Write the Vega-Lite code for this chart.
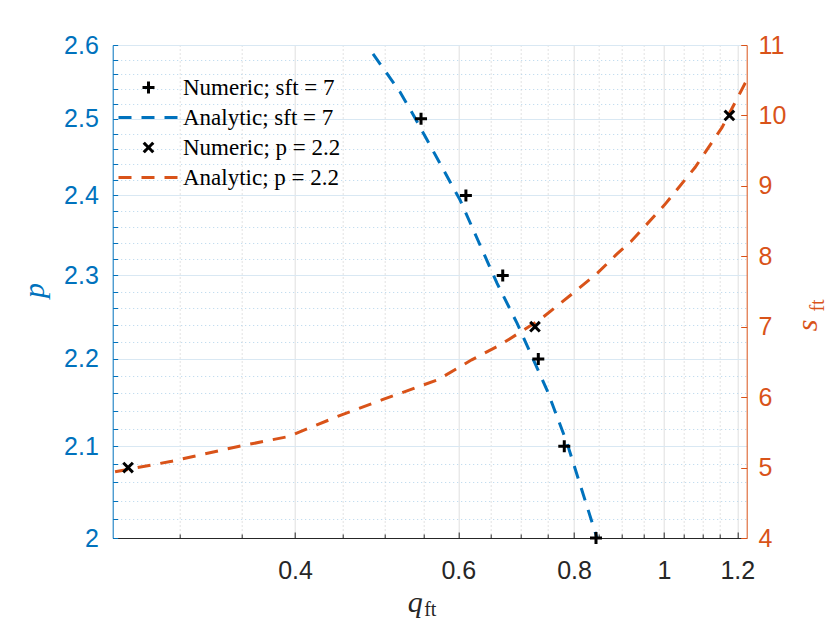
{
  "$schema": "https://vega.github.io/schema/vega-lite/v6.json",
  "width": 634,
  "height": 493,
  "autosize": {"type": "none"},
  "padding": {"left": 112.7, "top": 45, "right": 83.3, "bottom": 85},
  "background": "white",
  "config": {
    "view": {"stroke": null},
    "axis": {
      "labelFont": "Liberation Sans",
      "labelFontSize": 25,
      "titleFont": "Liberation Serif",
      "titleFontStyle": "italic",
      "titleFontWeight": "normal",
      "titleFontSize": 30,
      "tickWidth": 1,
      "domainWidth": 1,
      "gridWidth": 1
    },
    "legend": {
      "labelFont": "Liberation Serif",
      "labelFontSize": 23,
      "labelColor": "#000000",
      "labelLimit": 400,
      "symbolSize": 144,
      "symbolStrokeWidth": 3,
      "labelOffset": 23,
      "symbolOffset": 0,
      "rowPadding": 6,
      "padding": 0,
      "offset": 0
    }
  },
  "datasets": {
    "numS": [
      {"q": 0.547, "p": 2.5, "series": "Numeric; sft = 7"},
      {"q": 0.6115, "p": 2.4, "series": "Numeric; sft = 7"},
      {"q": 0.6701, "p": 2.3, "series": "Numeric; sft = 7"},
      {"q": 0.732, "p": 2.2, "series": "Numeric; sft = 7"},
      {"q": 0.7808, "p": 2.1, "series": "Numeric; sft = 7"},
      {"q": 0.8448, "p": 2.0, "series": "Numeric; sft = 7"}
    ],
    "anaS": [
      {"q": 0.4855, "p": 2.5876, "series": "Analytic; sft = 7"},
      {"q": 0.5192, "p": 2.5358, "series": "Analytic; sft = 7"},
      {"q": 0.5389, "p": 2.501, "series": "Analytic; sft = 7"},
      {"q": 0.6026, "p": 2.3943, "series": "Analytic; sft = 7"},
      {"q": 0.6606, "p": 2.2905, "series": "Analytic; sft = 7"},
      {"q": 0.6943, "p": 2.2423, "series": "Analytic; sft = 7"},
      {"q": 0.748, "p": 2.1638, "series": "Analytic; sft = 7"},
      {"q": 0.7861, "p": 2.1037, "series": "Analytic; sft = 7"},
      {"q": 0.8469, "p": 2.0, "series": "Analytic; sft = 7"}
    ],
    "numP": [
      {"q": 0.2642, "s": 5, "series": "Numeric; p = 2.2"},
      {"q": 0.726, "s": 7, "series": "Numeric; p = 2.2"},
      {"q": 1.1767, "s": 10, "series": "Numeric; p = 2.2"}
    ],
    "anaP": [
      {"q": 0.2558, "s": 4.94, "series": "Analytic; p = 2.2"},
      {"q": 0.2945, "s": 5.09, "series": "Analytic; p = 2.2"},
      {"q": 0.3474, "s": 5.3, "series": "Analytic; p = 2.2"},
      {"q": 0.3934, "s": 5.44, "series": "Analytic; p = 2.2"},
      {"q": 0.4454, "s": 5.73, "series": "Analytic; p = 2.2"},
      {"q": 0.4961, "s": 5.96, "series": "Analytic; p = 2.2"},
      {"q": 0.571, "s": 6.25, "series": "Analytic; p = 2.2"},
      {"q": 0.6204, "s": 6.53, "series": "Analytic; p = 2.2"},
      {"q": 0.6656, "s": 6.74, "series": "Analytic; p = 2.2"},
      {"q": 0.735, "s": 7.1, "series": "Analytic; p = 2.2"},
      {"q": 0.7985, "s": 7.48, "series": "Analytic; p = 2.2"},
      {"q": 0.8477, "s": 7.76, "series": "Analytic; p = 2.2"},
      {"q": 0.8895, "s": 8.03, "series": "Analytic; p = 2.2"},
      {"q": 0.9215, "s": 8.21, "series": "Analytic; p = 2.2"},
      {"q": 1.0017, "s": 8.73, "series": "Analytic; p = 2.2"},
      {"q": 1.0803, "s": 9.26, "series": "Analytic; p = 2.2"},
      {"q": 1.1554, "s": 9.83, "series": "Analytic; p = 2.2"},
      {"q": 1.2284, "s": 10.5, "series": "Analytic; p = 2.2"}
    ]
  },
  "layer": [
    {
      "layer": [
        {
          "data": {"name": "anaS"},
          "mark": {"type": "line", "strokeWidth": 3, "clip": true, "opacity": 1},
          "encoding": {
            "x": {
              "field": "q", "type": "quantitative",
              "scale": {"type": "log", "domain": [0.2543, 1.2284], "nice": false},
              "axis": {
                "orient": "bottom",
                "values": [0.4, 0.6, 0.8, 1, 1.2],
                "format": "~g",
                "labelColor": "#262626",
                "labelPadding": 26.7,
                "tickColor": "#262626",
                "tickSize": -6,
                "domainColor": "#262626",
                "grid": true,
                "gridColor": "#dfdfdf",
                "title": "q",
                "titleColor": "#262626",
                "titleX": 302,
                "titleY": 73,
                "titleAlign": "center",
                "titleBaseline": "alphabetic"
              }
            },
            "y": {
              "field": "p", "type": "quantitative",
              "scale": {"type": "log", "domain": [2, 2.6], "nice": false},
              "axis": {
                "orient": "left",
                "values": [2, 2.1, 2.2, 2.3, 2.4, 2.5, 2.6],
                "format": "~g",
                "labelColor": "#0072BD",
                "labelPadding": 19.4,
                "tickColor": "#0072BD",
                "tickSize": -5,
                "domainColor": "#0072BD",
                "grid": true,
                "gridColor": "#d9e8f3",
                "title": "p",
                "titleColor": "#0072BD",
                "titleAngle": 270,
                "titleX": -69,
                "titleY": 245,
                "titleAlign": "center",
                "titleBaseline": "alphabetic"
              }
            },
            "color": {
              "field": "series", "type": "nominal", "title": null,
              "scale": {
                "domain": ["Numeric; sft = 7", "Analytic; sft = 7", "Numeric; p = 2.2", "Analytic; p = 2.2"],
                "range": ["#000000", "#0072BD", "#000000", "#D95319"]
              },
              "legend": {"orient": "none", "legendX": 24.3, "legendY": 31}
            },
            "strokeDash": {
              "field": "series", "type": "nominal", "title": null,
              "scale": {
                "domain": ["Numeric; sft = 7", "Analytic; sft = 7", "Numeric; p = 2.2", "Analytic; p = 2.2"],
                "range": [[1, 0], [13, 10], [1, 0], [13, 10]]
              },
              "legend": {"orient": "none", "legendX": 24.3, "legendY": 31}
            }
          }
        },
        {
          "data": {"name": "numS"},
          "mark": {"type": "point", "filled": false, "strokeWidth": 3, "size": 144, "opacity": 1},
          "encoding": {
            "x": {
              "field": "q", "type": "quantitative",
              "scale": {"type": "log", "domain": [0.2543, 1.2284], "nice": false},
              "axis": {
                "orient": "bottom",
                "values": [0.3, 0.35, 0.45, 0.5, 0.55, 0.65, 0.7, 0.75, 0.85, 0.9, 0.95, 1.05, 1.1, 1.15],
                "labels": false,
                "domain": false,
                "tickColor": "#262626",
                "tickSize": -4,
                "grid": true,
                "gridColor": "#c4c4c4",
                "gridDash": [1, 3],
                "title": "ft",
                "titleFontStyle": "normal",
                "titleFontSize": 20,
                "titleColor": "#262626",
                "titleX": 311,
                "titleY": 77,
                "titleAlign": "left",
                "titleBaseline": "alphabetic"
              }
            },
            "y": {
              "field": "p", "type": "quantitative",
              "scale": {"type": "log", "domain": [2, 2.6], "nice": false},
              "axis": {
                "orient": "left",
                "values": [2.02, 2.04, 2.06, 2.08, 2.12, 2.14, 2.16, 2.18, 2.22, 2.24, 2.26, 2.28, 2.32, 2.34, 2.36, 2.38, 2.42, 2.44, 2.46, 2.48, 2.52, 2.54, 2.56, 2.58],
                "labels": false,
                "domain": false,
                "tickColor": "#0072BD",
                "tickSize": -5,
                "grid": true,
                "gridColor": "#b5d5ec",
                "gridDash": [1, 3],
                "title": null
              }
            },
            "color": {
              "field": "series", "type": "nominal", "title": null,
              "scale": {
                "domain": ["Numeric; sft = 7", "Analytic; sft = 7", "Numeric; p = 2.2", "Analytic; p = 2.2"],
                "range": ["#000000", "#0072BD", "#000000", "#D95319"]
              },
              "legend": {"orient": "none", "legendX": 24.3, "legendY": 31}
            },
            "shape": {
              "field": "series", "type": "nominal", "title": null,
              "scale": {
                "domain": ["Numeric; sft = 7", "Analytic; sft = 7", "Numeric; p = 2.2", "Analytic; p = 2.2"],
                "range": ["M-1,0H1M0,-1V1", "M-5,0H5", "M-0.8,-0.8L0.8,0.8M-0.8,0.8L0.8,-0.8", "M-5,0H5"]
              },
              "legend": {"orient": "none", "legendX": 24.3, "legendY": 31}
            }
          }
        }
      ],
      "resolve": {"axis": {"x": "independent", "y": "independent"}}
    },
    {
      "layer": [
        {
          "data": {"name": "anaP"},
          "mark": {"type": "line", "strokeWidth": 3, "clip": true, "opacity": 1},
          "encoding": {
            "x": {
              "field": "q", "type": "quantitative",
              "scale": {"type": "log", "domain": [0.2543, 1.2284], "nice": false},
              "axis": null
            },
            "y": {
              "field": "s", "type": "quantitative",
              "scale": {"domain": [4, 11], "nice": false, "zero": false},
              "axis": {
                "orient": "right",
                "values": [4, 5, 6, 7, 8, 9, 10, 11],
                "format": "d",
                "labelColor": "#D95319",
                "labelPadding": 17.3,
                "tickColor": "#D95319",
                "tickSize": -6,
                "domainColor": "#D95319",
                "grid": false,
                "title": "s",
                "titleColor": "#D95319",
                "titleAngle": 270,
                "titleX": 70,
                "titleY": 280,
                "titleAlign": "center",
                "titleBaseline": "alphabetic"
              }
            },
            "color": {
              "field": "series", "type": "nominal", "title": null,
              "scale": {
                "domain": ["Numeric; sft = 7", "Analytic; sft = 7", "Numeric; p = 2.2", "Analytic; p = 2.2"],
                "range": ["#000000", "#0072BD", "#000000", "#D95319"]
              },
              "legend": {"orient": "none", "legendX": 24.3, "legendY": 31}
            },
            "strokeDash": {
              "field": "series", "type": "nominal", "title": null,
              "scale": {
                "domain": ["Numeric; sft = 7", "Analytic; sft = 7", "Numeric; p = 2.2", "Analytic; p = 2.2"],
                "range": [[1, 0], [13, 10], [1, 0], [13, 10]]
              },
              "legend": {"orient": "none", "legendX": 24.3, "legendY": 31}
            }
          }
        },
        {
          "data": {"name": "numP"},
          "mark": {"type": "point", "filled": false, "strokeWidth": 3, "size": 144, "opacity": 1},
          "encoding": {
            "x": {
              "field": "q", "type": "quantitative",
              "scale": {"type": "log", "domain": [0.2543, 1.2284], "nice": false},
              "axis": null
            },
            "y": {
              "field": "s", "type": "quantitative",
              "scale": {"domain": [4, 11], "nice": false, "zero": false},
              "axis": {
                "orient": "right",
                "labels": false,
                "ticks": false,
                "domain": false,
                "grid": false,
                "title": "ft",
                "titleFontStyle": "normal",
                "titleFontSize": 20,
                "titleColor": "#D95319",
                "titleAngle": 270,
                "titleX": 77,
                "titleY": 260,
                "titleAlign": "center",
                "titleBaseline": "alphabetic"
              }
            },
            "color": {
              "field": "series", "type": "nominal", "title": null,
              "scale": {
                "domain": ["Numeric; sft = 7", "Analytic; sft = 7", "Numeric; p = 2.2", "Analytic; p = 2.2"],
                "range": ["#000000", "#0072BD", "#000000", "#D95319"]
              },
              "legend": {"orient": "none", "legendX": 24.3, "legendY": 31}
            },
            "shape": {
              "field": "series", "type": "nominal", "title": null,
              "scale": {
                "domain": ["Numeric; sft = 7", "Analytic; sft = 7", "Numeric; p = 2.2", "Analytic; p = 2.2"],
                "range": ["M-1,0H1M0,-1V1", "M-5,0H5", "M-0.8,-0.8L0.8,0.8M-0.8,0.8L0.8,-0.8", "M-5,0H5"]
              },
              "legend": {"orient": "none", "legendX": 24.3, "legendY": 31}
            }
          }
        }
      ],
      "resolve": {"axis": {"y": "independent"}}
    }
  ],
  "resolve": {"scale": {"y": "independent"}, "axis": {"x": "independent"}}
}
